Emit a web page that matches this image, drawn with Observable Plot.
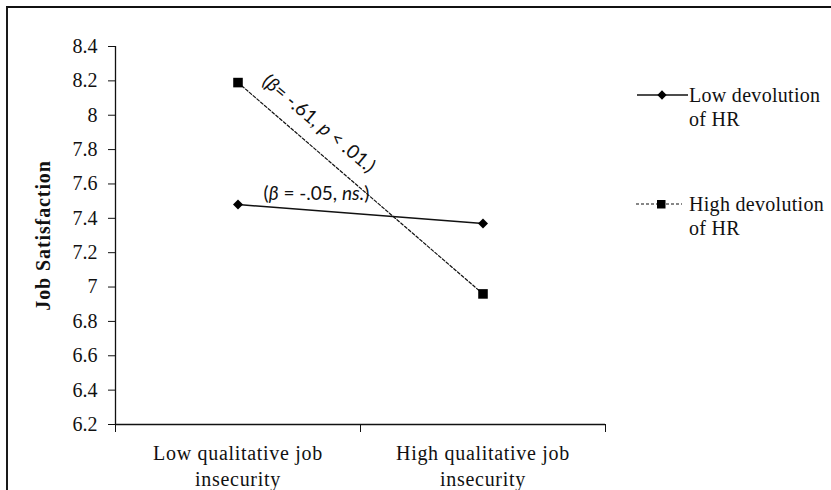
<!DOCTYPE html>
<html><head><meta charset="utf-8">
<script src="https://cdn.jsdelivr.net/npm/d3@7"></script>
<script src="https://cdn.jsdelivr.net/npm/@observablehq/plot@0.6"></script>
<style>
html,body{margin:0;padding:0;background:#fff;}
#wrap{position:relative;width:831px;height:490px;overflow:hidden;background:#fff;}
#frame{position:absolute;left:6px;top:6px;right:-10px;bottom:-10px;border-left:2px solid #1a1a1a;border-top:2px solid #111;pointer-events:none;}
.leg{position:absolute;left:636px;font-family:"Liberation Serif","Times New Roman",serif;font-size:20px;line-height:24px;color:#111;}
.leg svg{position:absolute;left:0;top:0;}
.leg span{position:absolute;left:53px;top:0;white-space:pre;letter-spacing:0.3px;}
</style></head><body><div id="wrap"></div>
<script>
// ---- data ----
const categories = ["Low qualitative job\ninsecurity", "High qualitative job\ninsecurity"];
const seriesNames = ["Low devolution\nof HR", "High devolution\nof HR"];
const lowDevolution = [7.48, 7.37];
const highDevolution = [8.19, 6.96];
const yTicks = [6.2, 6.4, 6.6, 6.8, 7, 7.2, 7.4, 7.6, 7.8, 8, 8.2, 8.4];
const yLabel = "Job Satisfaction";
const annotationParts = [
  [["(", false], ["β", true], [" = -.05, ", false], ["ns.", true], [")", false]],
  [["(", false], ["β", true], ["= -.61, ", false], ["p", true], [" < .01.)", false]]
];
const annotationX = [0.32, 0.33];
const annotationY = [7.54, 7.95];
const annotationAngle = [0, 40];

// ---- build tables ----
const lowRows = lowDevolution.map((v, i) => ({x: i, y: v}));
const highRows = highDevolution.map((v, i) => ({x: i, y: v}));
const annotations = annotationParts.map((p, i) => ({
  text: p.map(d => d[0]).join(""), x: annotationX[i], y: annotationY[i], angle: annotationAngle[i], parts: p
}));

const serif = '"Liberation Serif","Times New Roman",serif';

const plot = Plot.plot({
  width: 831, height: 490,
  marginLeft: 115, marginRight: 226, marginTop: 46, marginBottom: 66,
  style: {fontFamily: serif, fontSize: "20px", color: "#111", background: "#fff"},
  x: {domain: [-0.5, 1.5], label: null},
  y: {domain: [6.2, 8.4], label: null},
  marks: [
    Plot.axisY({ticks: yTicks, tickSize: 7, tickPadding: 11, tickFormat: d => String(+d.toFixed(1)), label: null,
      fontSize: 20, fontFamily: serif, fontVariant: "normal"}),
    Plot.axisX({ticks: [-0.5, 0.5, 1.5], tickSize: 8, tickFormat: () => "", label: null}),
    Plot.axisX({ticks: [0, 1], tickSize: 0, tickPadding: 17, tickFormat: i => categories[i], lineHeight: 1.3, label: null,
      fontSize: 20, fontFamily: serif, fontVariant: "normal"}),
    Plot.ruleX([-0.5], {stroke: "#111", strokeWidth: 1.3}),
    Plot.ruleY([6.2], {stroke: "#111", strokeWidth: 1.3}),
    Plot.text([yLabel], {frameAnchor: "left", dx: -72, rotate: -90, textAnchor: "middle", lineAnchor: "middle",
      fontWeight: "bold", fontSize: 20, fontFamily: serif, fill: "#111"}),
    Plot.line(lowRows, {x: "x", y: "y", stroke: "#111", strokeWidth: 1.5}),
    Plot.line(highRows, {x: "x", y: "y", stroke: "#111", strokeWidth: 1.2, strokeDasharray: "3,2"}),
    Plot.dot(lowRows, {x: "x", y: "y", symbol: "diamond2", fill: "#000", stroke: "none", r: 4.5}),
    Plot.dot(highRows, {x: "x", y: "y", symbol: "square", fill: "#000", stroke: "none", r: 5.4}),
    Plot.text(annotations, {x: "x", y: "y", text: "text", rotate: "angle", textAnchor: "middle", lineAnchor: "middle",
      fontFamily: "Lato, 'Open Sans', sans-serif", fontSize: 19, fill: "#111"})
  ]
});

const sv = d3.select(plot);
// mixed italic runs in the annotations
sv.selectAll("text").each(function () {
  const a = annotations.find(d => d.text === this.textContent);
  if (a) {
    const sel = d3.select(this);
    sel.text("");
    a.parts.forEach(([s, it]) => sel.append("tspan").attr("font-style", it ? "italic" : "normal").text(s));
  }
  if (this.textContent === yLabel) d3.select(this).style("letter-spacing", "0.9px");
  if (categories.some(c => c.replace("\n", "") === this.textContent.replace("\n", ""))) d3.select(this).style("letter-spacing", "0.7px");
});

const wrap = document.getElementById("wrap");
wrap.appendChild(plot);

// legend
const legendTops = [83, 192];
seriesNames.forEach((name, i) => {
  const div = d3.select(wrap).append("div").attr("class", "leg").style("top", legendTops[i] + "px");
  const s = div.append("svg").attr("width", 53).attr("height", 24);
  if (i === 0) {
    s.append("line").attr("x1", 1).attr("x2", 52).attr("y1", 12).attr("y2", 12).attr("stroke", "#111").attr("stroke-width", 1.5);
    s.append("path").attr("d", d3.symbol(d3.symbolDiamond2, 55)()).attr("transform", "translate(26,12)").attr("fill", "#000");
  } else {
    s.append("line").attr("x1", 0).attr("x2", 46).attr("y1", 12).attr("y2", 12).attr("stroke", "#111").attr("stroke-width", 1.2).attr("stroke-dasharray", "3,2");
    s.append("rect").attr("x", 21).attr("y", 8).attr("width", 8.5).attr("height", 8.5).attr("fill", "#000");
  }
  div.append("span").text(name);
});
d3.select(wrap).append("div").attr("id", "frame");
</script>
</body></html>
